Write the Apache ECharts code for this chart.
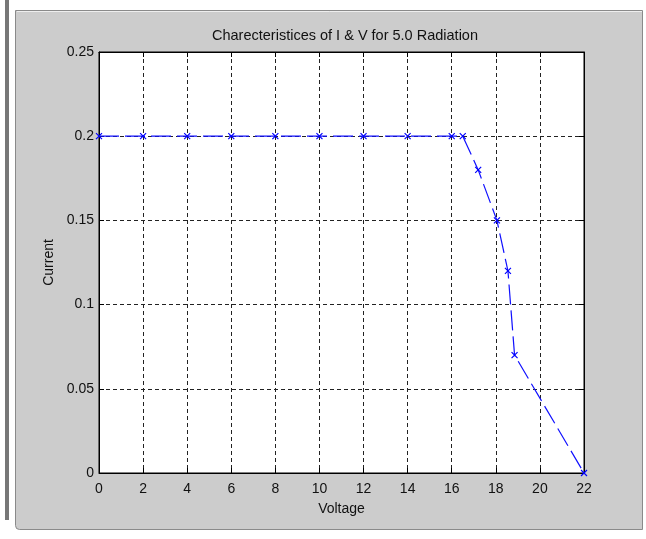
<!DOCTYPE html>
<html>
<head>
<meta charset="utf-8">
<script src="https://cdn.jsdelivr.net/npm/echarts@6/dist/echarts.min.js"></script>
<style>
html,body{margin:0;padding:0;background:#fff;}
#chart{width:646px;height:539px;}
</style>
</head>
<body>
<div id="chart"></div>
<script>
var titleText = 'Charecteristices of I & V for 5.0 Radiation';
var xName = 'Voltage';
var yName = 'Current';
var voltage = [0, 2, 4, 6, 8, 10, 12, 14, 16, 16.5, 17.2, 18.05, 18.55, 18.85, 22];
var current = [0.2, 0.2, 0.2, 0.2, 0.2, 0.2, 0.2, 0.2, 0.2, 0.2, 0.18, 0.15, 0.12, 0.07, 0];
var xMin = 0, xMax = 22, xStep = 2;
var yMin = 0, yMax = 0.25, yStep = 0.05;

var pts = voltage.map(function (v, i) { return [v, current[i]]; });
var font = 'Liberation Sans, Arial, sans-serif';
var txt = '#111';

var chart = echarts.init(document.getElementById('chart'), null, {renderer: 'canvas'});
var gridLine = {show: true, lineStyle: {color: '#222', type: [4, 3], width: 1}};
chart.setOption({
  backgroundColor: '#fff',
  animation: false,
  graphic: [
    {type: 'rect', z: -10, shape: {x: 5, y: 0, width: 4, height: 520}, style: {fill: '#777'}},
    {type: 'rect', z: -10, shape: {x: 15.5, y: 10.5, width: 627, height: 519, r: [0, 0, 0, 4]},
     style: {fill: '#cccccc', stroke: '#8a8a8a', lineWidth: 1}},
    {type: 'line', z: -9, shape: {x1: 17, y1: 11.5, x2: 642, y2: 11.5}, style: {stroke: '#eeeeee', lineWidth: 1}}
  ],
  title: {
    text: titleText, left: 340, textAlign: 'center', top: 23,
    textStyle: {fontFamily: font, fontSize: 14.5, fontWeight: 'normal', color: txt}
  },
  grid: {left: 99, top: 52, width: 485, height: 421, show: true, backgroundColor: '#fff',
         borderColor: '#000', borderWidth: 1},
  xAxis: [{
    type: 'value', min: xMin, max: xMax, interval: xStep, position: 'bottom',
    name: xName, nameLocation: 'middle', nameGap: 29,
    nameTextStyle: {fontFamily: font, fontSize: 14, color: txt},
    axisLine: {show: true, onZero: false, lineStyle: {color: '#000'}},
    axisTick: {show: true, inside: true, length: 5, lineStyle: {color: '#000'}},
    axisLabel: {fontFamily: font, fontSize: 14, color: txt, margin: 9},
    splitLine: gridLine
  }, {
    type: 'value', min: xMin, max: xMax, interval: xStep, position: 'top',
    axisLine: {show: true, onZero: false, lineStyle: {color: '#000'}},
    axisTick: {show: true, inside: true, length: 5, lineStyle: {color: '#000'}},
    axisLabel: {show: false}, splitLine: {show: false}
  }],
  yAxis: [{
    type: 'value', min: yMin, max: yMax, interval: yStep, position: 'left',
    name: yName, nameLocation: 'middle', nameGap: 43, nameRotate: 90,
    nameTextStyle: {fontFamily: font, fontSize: 14, color: txt},
    axisLine: {show: true, onZero: false, lineStyle: {color: '#000'}},
    axisTick: {show: true, inside: true, length: 5, lineStyle: {color: '#000'}},
    axisLabel: {fontFamily: font, fontSize: 14, color: txt, margin: 5},
    splitLine: gridLine
  }, {
    type: 'value', min: yMin, max: yMax, interval: yStep, position: 'right',
    axisLine: {show: true, onZero: false, lineStyle: {color: '#000'}},
    axisTick: {show: true, inside: true, length: 5, lineStyle: {color: '#000'}},
    axisLabel: {show: false}, splitLine: {show: false}
  }],
  series: [{
    type: 'line', data: pts, xAxisIndex: 0, yAxisIndex: 0, clip: false,
    lineStyle: {color: '#1010ff', width: 1.2, type: [20, 6]},
    symbol: 'path://M0,0L10,10M10,0L0,10', symbolSize: 6, showSymbol: true,
    itemStyle: {color: 'none', borderColor: '#0000ff', borderWidth: 1.2},
    emphasis: {disabled: true}
  }]
});
</script>
</body>
</html>
